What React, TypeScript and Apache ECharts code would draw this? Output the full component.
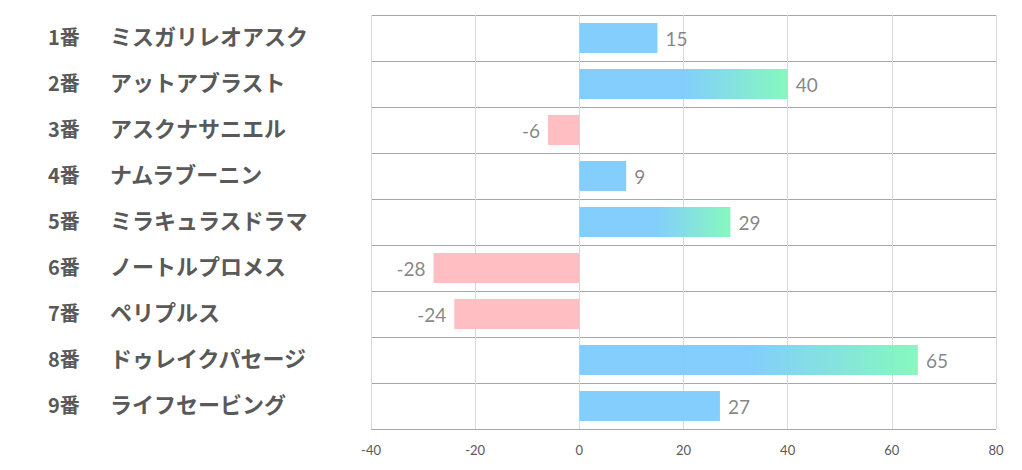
import React, { useEffect, useRef } from "react";
import * as echarts from "echarts";

const numbers = ["1番", "2番", "3番", "4番", "5番", "6番", "7番", "8番", "9番"];
const horses = [
  "ミスガリレオアスク",
  "アットアブラスト",
  "アスクナサニエル",
  "ナムラブーニン",
  "ミラキュラスドラマ",
  "ノートルプロメス",
  "ペリプルス",
  "ドゥレイクパセージ",
  "ライフセービング",
];
const values = [15, 40, -6, 9, 29, -28, -24, 65, 27];
const gradientBars = [false, true, false, false, true, false, false, true, false];
const xTicks = { min: -40, max: 80, interval: 20 };

const BLUE = "#7ccbfd";
const GREEN = "#7ff8bb";
const PINK = "#ffbabe";

export default function App() {
  const ref = useRef<HTMLDivElement>(null);
  useEffect(() => {
    if (!ref.current) return;
    const chart = echarts.init(ref.current, undefined, { renderer: "svg" });
    const categories = numbers.map((n, i) => `${n}|${horses[i]}`);
    const data = values.map((v, i) => {
      let color: any = v < 0 ? PINK : BLUE;
      if (v >= 0 && gradientBars[i]) {
        color = new echarts.graphic.LinearGradient(0, 0, 1, 0, [
          { offset: 0, color: BLUE },
          { offset: 0.5, color: BLUE },
          { offset: 1, color: GREEN },
        ]);
      }
      return {
        value: v,
        itemStyle: { color, opacity: 0.95 },
        label: { position: v < 0 ? "left" : "right" },
      };
    });
    chart.setOption({
      animation: false,
      grid: { left: 371, right: 26, top: 15, bottom: 41, containLabel: false },
      xAxis: {
        type: "value",
        min: xTicks.min,
        max: xTicks.max,
        interval: xTicks.interval,
        axisLine: { show: false },
        axisTick: { show: false },
        splitLine: { show: true, lineStyle: { color: "#d9d9d9", width: 1 } },
        axisLabel: {
          color: "#595959",
          fontSize: 13,
          margin: 14,
          fontFamily: "Lato, 'Noto Sans', sans-serif",
        },
      },
      yAxis: {
        type: "category",
        inverse: true,
        data: categories,
        axisLine: { show: false },
        axisTick: { show: false },
        splitLine: { show: true, lineStyle: { color: "#a6a6a6", width: 1 } },
        axisLabel: {
          margin: 323,
          align: "left",
          padding: [0, 0, 3, 0],
          formatter: (val: string) => {
            const [n, h] = val.split("|");
            return `{n|${n}}{h|${h}}`;
          },
          rich: {
            n: {
              width: 62,
              fontSize: 20,
              lineHeight: 26,
              verticalAlign: "middle",
              fontWeight: "bold",
              color: "#595959",
              fontFamily: "'Noto Sans CJK JP', sans-serif",
            },
            h: {
              fontSize: 22,
              lineHeight: 26,
              padding: [0, 0, 3, 0],
              verticalAlign: "middle",
              fontWeight: "bold",
              color: "#595959",
              fontFamily: "'Noto Sans CJK JP', sans-serif",
            },
          },
        },
      },
      series: [
        {
          type: "bar",
          data,
          barWidth: 30,
          label: {
            show: true,
            distance: 8,
            color: "#7f7f7f",
            fontSize: 19,
            fontFamily: "Lato, 'Noto Sans', sans-serif",
          },
        },
      ],
    });
    return () => chart.dispose();
  }, []);
  return (
    <div
      ref={ref}
      style={{ position: "fixed", left: 0, top: 0, width: 1022, height: 470, background: "#fff" }}
    />
  );
}
